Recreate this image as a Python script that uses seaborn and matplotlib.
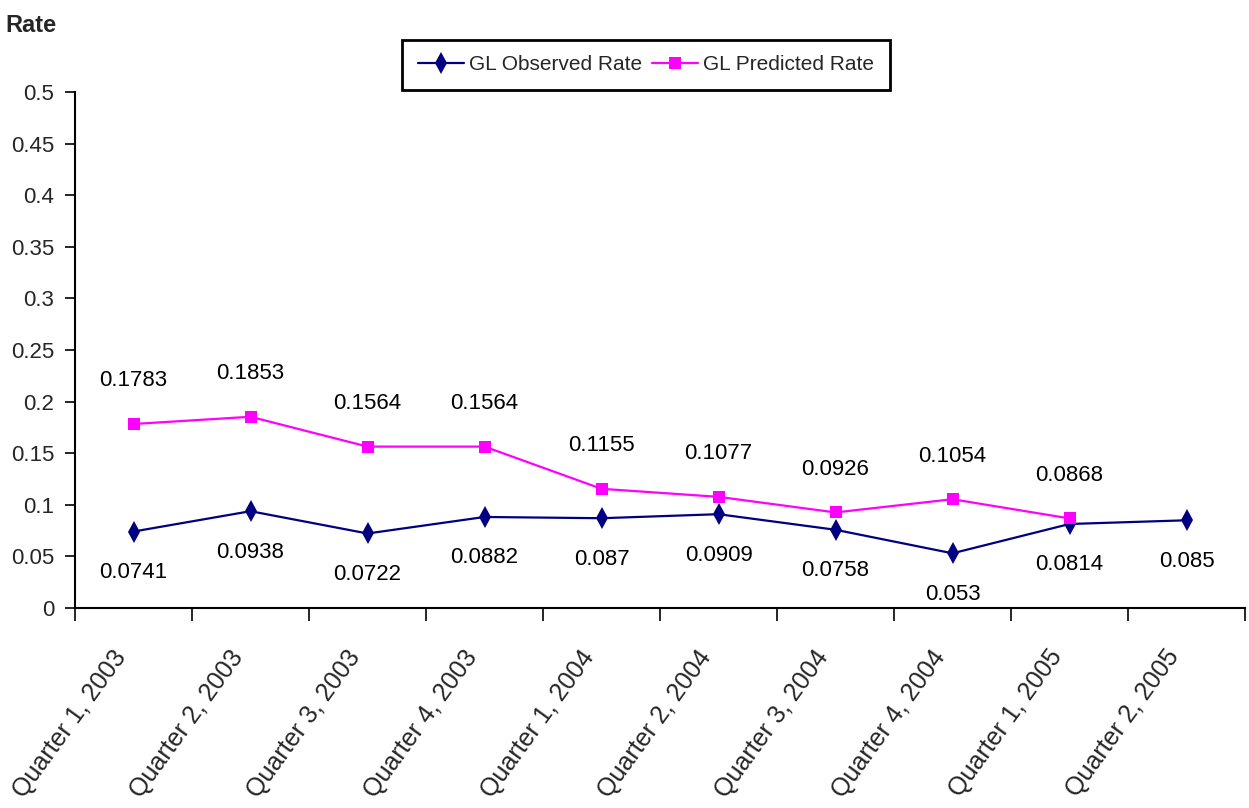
import matplotlib
matplotlib.use("Agg")
import matplotlib.pyplot as plt
from matplotlib.transforms import ScaledTranslation
import seaborn as sns
import pandas as pd
import numpy as np

quarters = ["Quarter 1, 2003", "Quarter 2, 2003", "Quarter 3, 2003", "Quarter 4, 2003",
            "Quarter 1, 2004", "Quarter 2, 2004", "Quarter 3, 2004", "Quarter 4, 2004",
            "Quarter 1, 2005", "Quarter 2, 2005"]
observed = [0.0741, 0.0938, 0.0722, 0.0882, 0.087, 0.0909, 0.0758, 0.053, 0.0814, 0.085]
predicted = [0.1783, 0.1853, 0.1564, 0.1564, 0.1155, 0.1077, 0.0926, 0.1054, 0.0868, None]
y_ticks = [0, 0.05, 0.1, 0.15, 0.2, 0.25, 0.3, 0.35, 0.4, 0.45, 0.5]
y_tick_labels = ["0", "0.05", "0.1", "0.15", "0.2", "0.25", "0.3", "0.35", "0.4", "0.45", "0.5"]

OBS_NAME = "GL Observed Rate"
PRED_NAME = "GL Predicted Rate"

sns.set_theme(style="white")
FONT = ["Liberation Sans", "DejaVu Sans"]
plt.rcParams["font.family"] = FONT

rows = []
for i, (o, p) in enumerate(zip(observed, predicted)):
    rows.append({"pos": i, "rate": o, "series": OBS_NAME})
    if p is not None:
        rows.append({"pos": i, "rate": p, "series": PRED_NAME})
df = pd.DataFrame(rows)

fig = plt.figure(figsize=(12.49, 8.08), dpi=100)
W, H = 1249, 808
left, right, top, bottom = 75, 1245, 92, 608
ax = fig.add_axes([left / W, 1 - bottom / H, (right - left) / W, (bottom - top) / H])

palette = {OBS_NAME: "#000080", PRED_NAME: "#FF00FF"}
markers = {OBS_NAME: "d", PRED_NAME: "s"}
sns.lineplot(data=df, x="pos", y="rate", hue="series", style="series",
             palette=palette, markers=markers, dashes=False, sort=False,
             linewidth=1.6, markersize=11, markeredgewidth=0, ax=ax,
             hue_order=[OBS_NAME, PRED_NAME], style_order=[OBS_NAME, PRED_NAME])
for line in ax.lines:
    if line.get_marker() == "s":
        line.set_markersize(8.5)

LABEL_SIZE = 16
label_kw = dict(ha="center", va="center", fontsize=LABEL_SIZE, color="black",
                textcoords="offset pixels")
for i, o in enumerate(observed):
    ax.annotate(f"{o:g}", (i, o), xytext=(0, -41), **label_kw)
for i, p in enumerate(predicted):
    if p is not None:
        ax.annotate(f"{p:g}", (i, p), xytext=(0, 43), **label_kw)

ax.set_xlim(-0.5, len(quarters) - 0.5)
ax.set_ylim(0, 0.5)
ax.set_yticks(y_ticks)
ax.set_yticklabels(y_tick_labels, fontsize=LABEL_SIZE)
ax.set_xticks(np.arange(-0.5, len(quarters), 1.0))
ax.set_xticklabels([])
ax.set_xticks(np.arange(len(quarters)), minor=True)
ax.set_xticklabels(quarters, minor=True, rotation=54, ha="right",
                   rotation_mode="anchor", fontsize=18)
ax.tick_params(axis="x", which="major", direction="out", length=9, width=1.2,
               color="black", bottom=True)
ax.tick_params(axis="x", which="minor", length=0, pad=14)
ax.tick_params(axis="y", direction="out", length=7, width=1.2, color="black",
               left=True, pad=8)
shift = ScaledTranslation(-22 / 100, -18 / 100, fig.dpi_scale_trans)
for lbl in ax.get_xticklabels(minor=True):
    lbl.set_transform(lbl.get_transform() + shift)
ax.set_xlabel("")
ax.set_ylabel("")
for side in ["top", "right"]:
    ax.spines[side].set_visible(False)
for side in ["left", "bottom"]:
    ax.spines[side].set_color("black")
    ax.spines[side].set_linewidth(1.5)

ax.get_legend().remove()
handles, labels = ax.get_legend_handles_labels()
leg = fig.legend(handles, labels, loc="center", bbox_to_anchor=(646 / W, 1 - 65 / H),
                 ncol=2, frameon=True, fancybox=False, edgecolor="black",
                 framealpha=1, fontsize=15, handlelength=2.2, handletextpad=0.25,
                 columnspacing=0.5, borderpad=0.75, borderaxespad=0)
leg.get_frame().set_linewidth(2)

fig.text(5 / W, 1 - 26 / H, "Rate", fontsize=17, fontweight="bold",
         ha="left", va="center")

fig.savefig("out.png", dpi=100, facecolor="white")
